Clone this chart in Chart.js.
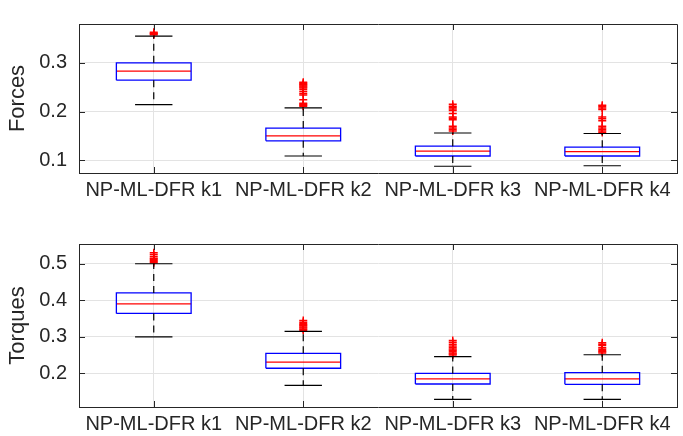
<!DOCTYPE html>
<html>
<head>
<meta charset="utf-8">
<script src="https://cdn.jsdelivr.net/npm/chart.js@4.4.0/dist/chart.umd.min.js"></script>
<style>
  html, body { margin: 0; padding: 0; background: #fff; }
  #wrap { position: relative; width: 683px; height: 436px; }
  canvas { position: absolute; left: 0; }
  #forcesChart { top: 0; }
  #torquesChart { top: 218px; }
</style>
</head>
<body>
<div id="wrap">
  <canvas id="forcesChart" width="683" height="218"></canvas>
  <canvas id="torquesChart" width="683" height="218"></canvas>
</div>
<script>
const categories = ['NP-ML-DFR k1', 'NP-ML-DFR k2', 'NP-ML-DFR k3', 'NP-ML-DFR k4'];
const positions = [1, 2, 3, 4];

// Forces: whisker ends, quartiles, median, outliers
const forceLow = [0.214, 0.109, 0.088, 0.089];
const forceQ1 = [0.264, 0.140, 0.109, 0.109];
const forceMedian = [0.2825, 0.150, 0.119, 0.118];
const forceQ3 = [0.2995, 0.166, 0.129, 0.127];
const forceHigh = [0.354, 0.2075, 0.156, 0.155];
const forceOutliers = [
  [0.357, 0.359, 0.360, 0.362],
  [0.211, 0.213, 0.215, 0.217, 0.224, 0.234, 0.237, 0.241, 0.245, 0.248, 0.250, 0.252, 0.254, 0.256, 0.258, 0.260],
  [0.160, 0.163, 0.166, 0.170, 0.183, 0.186, 0.189, 0.196, 0.202, 0.205, 0.208, 0.211, 0.215],
  [0.157, 0.160, 0.163, 0.166, 0.170, 0.181, 0.185, 0.189, 0.204, 0.207, 0.210, 0.213],
];
const forceTicks = [0.1, 0.2, 0.3];
const forceRange = [0.0742, 0.379];

// Torques
const torqueLow = [0.300, 0.167, 0.129, 0.129];
const torqueQ1 = [0.364, 0.214, 0.171, 0.170];
const torqueMedian = [0.390, 0.231, 0.185, 0.185];
const torqueQ3 = [0.420, 0.255, 0.200, 0.202];
const torqueHigh = [0.500, 0.315, 0.246, 0.251];
const torqueOutliers = [
  [0.503, 0.506, 0.509, 0.512, 0.515, 0.520, 0.525, 0.530],
  [0.318, 0.321, 0.324, 0.327, 0.330, 0.333, 0.336, 0.340, 0.345],
  [0.250, 0.253, 0.256, 0.260, 0.263, 0.267, 0.271, 0.275, 0.280, 0.285, 0.290],
  [0.256, 0.259, 0.262, 0.266, 0.270, 0.276, 0.280, 0.284],
];
const torqueTicks = [0.2, 0.3, 0.4, 0.5];
const torqueRange = [0.108, 0.554];

const BOX_HALF = 0.25;
const CAP_HALF = 0.125;
const AXIS_COLOR = '#262626';
const GRID_COLOR = '#e3e3e3';
const FONT = "'Liberation Sans', Arial, Helvetica, sans-serif";

const lineSet = (data, color, dash, width) => ({
  data,
  showLine: true,
  borderColor: color,
  borderWidth: width || 1,
  borderDash: dash || [],
  pointRadius: 0,
  pointHoverRadius: 0,
  fill: false,
  tension: 0,
});

const buildDatasets = (low, q1, med, q3, high, outliers) => {
  const sets = [];
  positions.forEach((p, i) => {
    // whiskers (dashed) from box to caps
    sets.push(lineSet([{ x: p, y: q3[i] }, { x: p, y: high[i] }], '#000000', [7, 5], 1.2));
    sets.push(lineSet([{ x: p, y: q1[i] }, { x: p, y: low[i] }], '#000000', [7, 5], 1.2));
    // caps
    sets.push(lineSet([{ x: p - CAP_HALF, y: high[i] }, { x: p + CAP_HALF, y: high[i] }], '#000000', null, 1.2));
    sets.push(lineSet([{ x: p - CAP_HALF, y: low[i] }, { x: p + CAP_HALF, y: low[i] }], '#000000', null, 1.2));
    // box
    sets.push(lineSet([
      { x: p - BOX_HALF, y: q1[i] },
      { x: p + BOX_HALF, y: q1[i] },
      { x: p + BOX_HALF, y: q3[i] },
      { x: p - BOX_HALF, y: q3[i] },
      { x: p - BOX_HALF, y: q1[i] },
    ], '#0000ff', null, 1.3));
    // median
    sets.push(lineSet([{ x: p - BOX_HALF, y: med[i] }, { x: p + BOX_HALF, y: med[i] }], '#ff0000', null, 1.3));
    // outliers
    sets.push({
      data: outliers[i].map((v) => ({ x: p, y: v })),
      showLine: false,
      pointStyle: 'cross',
      pointRadius: 4,
      pointBorderWidth: 1.5,
      pointBorderColor: '#ff0000',
      pointBackgroundColor: '#ff0000',
      pointHoverRadius: 4,
    });
  });
  return sets;
};

const framePlugin = {
  id: 'frame',
  afterDatasetsDraw(chart) {
    const { ctx, chartArea: a, scales: { x, y } } = chart;
    const px = (v) => Math.round(v) + 0.5;
    const tick = 6;
    ctx.save();
    ctx.strokeStyle = AXIS_COLOR;
    ctx.lineWidth = 1;
    ctx.beginPath();
    ctx.moveTo(px(a.left), px(a.top));
    ctx.lineTo(px(a.right), px(a.top));
    ctx.lineTo(px(a.right), px(a.bottom));
    x.ticks.forEach((t) => {
      const xp = px(x.getPixelForValue(t.value));
      ctx.moveTo(xp, a.bottom);
      ctx.lineTo(xp, a.bottom - tick);
      ctx.moveTo(xp, a.top);
      ctx.lineTo(xp, a.top + tick);
    });
    y.ticks.forEach((t) => {
      const yp = px(y.getPixelForValue(t.value));
      ctx.moveTo(a.left, yp);
      ctx.lineTo(a.left + tick, yp);
      ctx.moveTo(a.right, yp);
      ctx.lineTo(a.right - tick, yp);
    });
    ctx.stroke();
    ctx.restore();
  },
};

const makeChart = (id, title, range, yTicks, datasets, padTop, xHeight) => new Chart(document.getElementById(id), {
  type: 'scatter',
  data: { datasets },
  options: {
    responsive: false,
    animation: false,
    events: [],
    layout: { padding: { top: padTop, right: 6, left: 0, bottom: 0 } },
    plugins: { legend: { display: false }, tooltip: { enabled: false } },
    scales: {
      x: {
        type: 'linear',
        min: 0.5,
        max: 4.5,
        afterBuildTicks: (s) => { s.ticks = positions.map((v) => ({ value: v })); },
        afterFit: (s) => { s.height = xHeight; },
        ticks: {
          autoSkip: false,
          maxRotation: 0,
          padding: 5,
          color: AXIS_COLOR,
          font: { family: FONT, size: 20 },
          callback: (v, i) => categories[i],
        },
        grid: { color: GRID_COLOR, drawTicks: false },
        border: { color: AXIS_COLOR, width: 1 },
      },
      y: {
        type: 'linear',
        min: range[0],
        max: range[1],
        afterBuildTicks: (s) => { s.ticks = yTicks.map((v) => ({ value: v })); },
        afterFit: (s) => { s.width = 79; },
        ticks: {
          padding: 12,
          color: AXIS_COLOR,
          font: { family: FONT, size: 20 },
          callback: (v) => v.toFixed(1),
        },
        grid: { color: GRID_COLOR, drawTicks: false },
        border: { color: AXIS_COLOR, width: 1 },
        title: {
          display: true,
          text: title,
          color: AXIS_COLOR,
          font: { family: FONT, size: 22 },
          padding: { top: 5, bottom: 0 },
        },
      },
    },
  },
  plugins: [framePlugin],
});

makeChart('forcesChart', 'Forces', forceRange, forceTicks,
  buildDatasets(forceLow, forceQ1, forceMedian, forceQ3, forceHigh, forceOutliers), 11, 45);
makeChart('torquesChart', 'Torques', torqueRange, torqueTicks,
  buildDatasets(torqueLow, torqueQ1, torqueMedian, torqueQ3, torqueHigh, torqueOutliers), 26, 29);
</script>
</body>
</html>
